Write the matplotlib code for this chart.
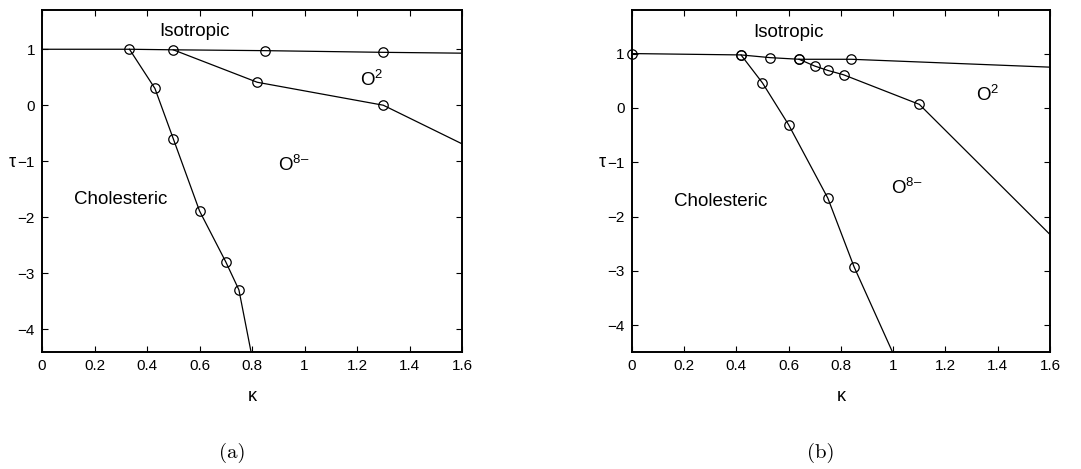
import matplotlib
matplotlib.use("Agg")
import matplotlib.pyplot as plt

plt.rcParams['font.family'] = ['Liberation Sans', 'DejaVu Sans']
plt.rcParams['mathtext.fontset'] = 'custom'
plt.rcParams['mathtext.rm'] = 'Liberation Sans'
plt.rcParams['mathtext.it'] = 'Liberation Sans:italic'

# --- datos panel (a) ---
a_iso_k = [0.0, 0.333, 0.50, 0.85, 1.30, 1.6]
a_iso_t = [1.0, 1.0, 0.99, 0.975, 0.945, 0.93]

a_chol_k = [0.333, 0.43, 0.50, 0.60, 0.70, 0.75, 0.80]
a_chol_t = [1.0, 0.30, -0.60, -1.89, -2.80, -3.30, -4.50]

a_o2_k = [0.50, 0.82, 1.30, 1.6]
a_o2_t = [0.99, 0.41, 0.0, -0.69]

# --- datos panel (b) ---
b_iso_k = [0.0, 0.418, 0.53, 0.64, 0.84, 1.6]
b_iso_t = [1.0, 0.975, 0.925, 0.895, 0.895, 0.75]

b_chol_k = [0.418, 0.50, 0.60, 0.75, 0.85, 1.0]
b_chol_t = [0.975, 0.46, -0.31, -1.66, -2.92, -4.52]

b_o2_k = [0.64, 0.70, 0.75, 0.81, 1.10, 1.6]
b_o2_t = [0.895, 0.77, 0.69, 0.61, 0.065, -2.33]

xticks = [0, 0.2, 0.4, 0.6, 0.8, 1, 1.2, 1.4, 1.6]
xticklabels = ['0', '0.2', '0.4', '0.6', '0.8', '1', '1.2', '1.4', '1.6']
yticks = [-4, -3, -2, -1, 0, 1]

o8 = 'O$^{8\u2013}$'

fig = plt.figure(figsize=(10.81, 4.69), dpi=100)
ax_a = fig.add_axes([0.0389, 0.2495, 0.3885, 0.729])
ax_b = fig.add_axes([0.5844, 0.2495, 0.387, 0.729])

lw = 0.9
mk = dict(marker='o', mfc='none', mec='black', ms=6.8, mew=0.9)


def linea(ax, k, t, puntos):
    ax.plot(k, t, color='black', lw=lw, clip_on=True)
    ax.plot([k[i] for i in puntos], [t[i] for i in puntos], ls='none',
            clip_on=False, **mk)


# panel (a)
linea(ax_a, a_iso_k, a_iso_t, range(1, len(a_iso_k) - 1))
linea(ax_a, a_chol_k, a_chol_t, range(1, len(a_chol_k) - 1))
linea(ax_a, a_o2_k, a_o2_t, range(1, len(a_o2_k) - 1))
ax_a.set_ylim(-4.41, 1.70)
fs = 13.5
ax_a.text(0.58, 1.31, 'Isotropic', fontsize=fs, ha='center', va='center')
ax_a.text(1.256, 0.45, 'O$^2$', fontsize=fs, ha='center', va='center')
ax_a.text(0.96, -1.07, o8, fontsize=fs, ha='center', va='center')
ax_a.text(0.30, -1.69, 'Cholesteric', fontsize=fs, ha='center', va='center')

# panel (b)
linea(ax_b, b_iso_k, b_iso_t, range(len(b_iso_k) - 1))
linea(ax_b, b_chol_k, b_chol_t, range(len(b_chol_k) - 1))
linea(ax_b, b_o2_k, b_o2_t, range(len(b_o2_k) - 1))
ax_b.set_ylim(-4.49, 1.80)
ax_b.text(0.60, 1.39, 'Isotropic', fontsize=fs, ha='center', va='center')
ax_b.text(1.36, 0.23, 'O$^2$', fontsize=fs, ha='center', va='center')
ax_b.text(1.05, -1.47, o8, fontsize=fs, ha='center', va='center')
ax_b.text(0.34, -1.72, 'Cholesteric', fontsize=fs, ha='center', va='center')

for ax in (ax_a, ax_b):
    ax.set_xlim(0, 1.6)
    ax.set_xticks(xticks)
    ax.set_xticklabels(xticklabels)
    ax.set_yticks(yticks)
    ax.set_yticklabels(['\u22124', '\u22123', '\u22122', '\u22121', '0', '1'])
    ax.tick_params(direction='in', top=True, right=True, length=4,
                   width=0.8, labelsize=11, pad=5)
    for s in ax.spines.values():
        s.set_linewidth(1.4)
    ax.set_xlabel('\u03ba', fontsize=13)
    ax.set_ylabel('\u03c4', fontsize=13, rotation=0)
    ax.xaxis.set_label_coords(0.5, -0.105)
    ax.yaxis.set_label_coords(-0.07, 0.53)

fig.text(0.2146, 0.034, '(a)', fontfamily='cmr10', fontsize=15,
         ha='center', va='center')
fig.text(0.7595, 0.034, '(b)', fontfamily='cmr10', fontsize=15,
         ha='center', va='center')

fig.savefig('out.png', dpi=100)
